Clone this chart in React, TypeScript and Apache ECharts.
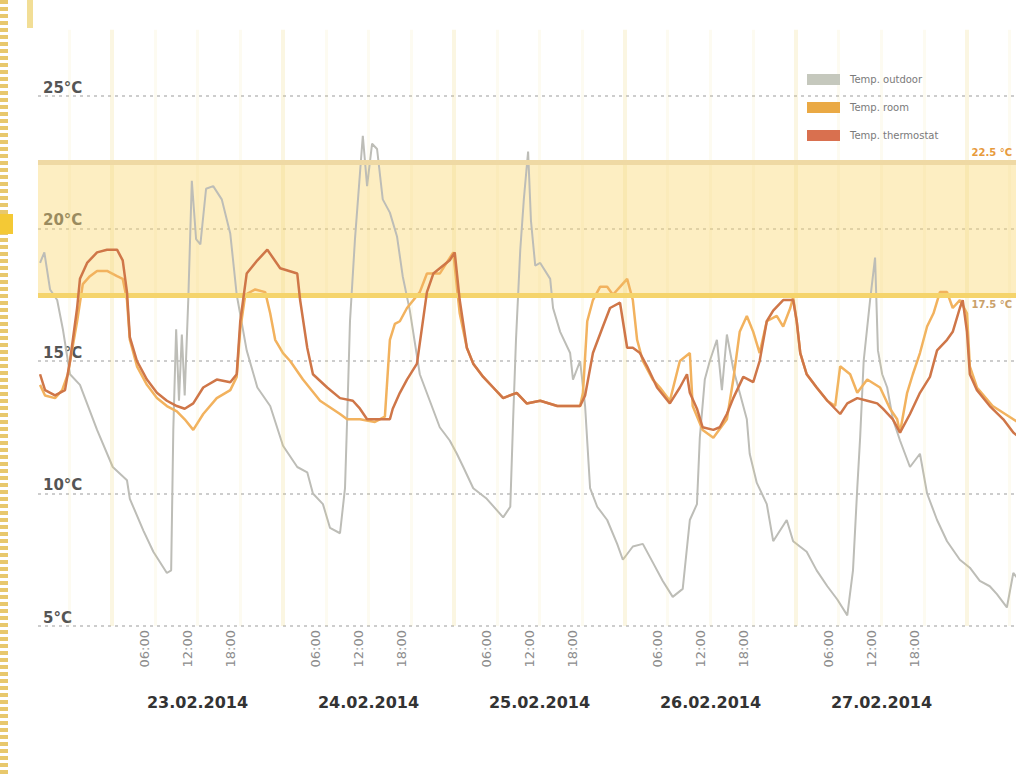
import React, { useEffect, useRef } from "react";
import * as echarts from "echarts";

// ---- data (hours since 23.02.2014 00:00, temperatures in °C) ----
const seriesNames = ["Temp. outdoor", "Temp. room", "Temp. thermostat"];

const outdoorHours = [-10.1, -9.5, -8.7, -7.7, -6.9, -5.9, -4.5, -2.1, 0.1, 2.1, 2.5, 4.4, 5.8, 7.7, 8.3, 8.6, 9.0, 9.4, 9.8, 10.2, 10.7, 11.2, 11.8, 12.4, 13.2, 14.2, 15.4, 16.6, 17.5, 18.9, 20.4, 22.2, 24.0, 26.0, 27.4, 28.2, 29.6, 30.6, 32.0, 32.7, 33.0, 33.4, 34.1, 35.2, 35.8, 36.5, 37.2, 38.0, 39.0, 40.0, 40.8, 41.8, 43.2, 44.6, 46.0, 47.4, 48.4, 49.3, 50.7, 52.6, 54.9, 55.9, 56.3, 56.7, 57.3, 57.8, 58.4, 58.8, 59.4, 60.1, 61.5, 61.9, 62.9, 64.3, 64.7, 65.7, 66.4, 67.1, 68.1, 69.5, 70.9, 71.7, 73.1, 74.5, 75.9, 77.3, 78.7, 80.1, 81.1, 82.1, 82.5, 83.2, 83.9, 84.9, 85.6, 86.3, 87.2, 88.1, 89.1, 89.5, 90.5, 91.9, 92.8, 94.7, 95.6, 97.5, 98.9, 100.4, 101.8, 103.2, 104.0, 104.6, 105.0, 105.5, 106.4, 107.1, 107.5, 108.1, 108.8, 109.6, 110.6, 112.0, 113.4, 114.4, 115.8, 117.2, 119.0, 120.4, 121.8, 123.2, 124.2, 125.6, 126.5, 127.4, 128.8];
const outdoorTemps = [18.7, 19.1, 17.7, 17.3, 16.2, 14.5, 14.1, 12.4, 11.0, 10.5, 9.8, 8.6, 7.8, 7.0, 7.1, 12.4, 16.2, 13.5, 16.0, 13.7, 17.3, 21.8, 19.6, 19.4, 21.5, 21.6, 21.1, 19.8, 17.5, 15.4, 14.0, 13.3, 11.8, 11.0, 10.8, 10.0, 9.6, 8.7, 8.5, 10.2, 12.8, 16.5, 19.6, 23.5, 21.6, 23.2, 23.0, 21.1, 20.6, 19.7, 18.2, 16.9, 14.5, 13.5, 12.5, 12.0, 11.5, 11.0, 10.2, 9.8, 9.1, 9.5, 12.8, 15.8, 19.2, 21.1, 22.9, 20.3, 18.6, 18.7, 18.1, 17.0, 16.1, 15.3, 14.3, 15.0, 13.3, 10.2, 9.5, 9.0, 8.1, 7.5, 8.0, 8.1, 7.4, 6.7, 6.1, 6.4, 9.0, 9.6, 12.1, 14.3, 15.0, 15.8, 13.9, 16.0, 14.7, 13.8, 12.8, 11.5, 10.4, 9.6, 8.2, 9.0, 8.2, 7.8, 7.1, 6.5, 6.0, 5.4, 7.1, 10.2, 12.1, 15.0, 17.3, 18.9, 15.4, 14.5, 14.0, 12.8, 12.0, 11.0, 11.5, 10.0, 9.0, 8.2, 7.5, 7.2, 6.7, 6.5, 6.2, 5.7, 7.0, 6.7, 6.4];

const roomHours = [-10.1, -9.4, -8.0, -7.0, -6.2, -4.9, -4.1, -3.1, -2.1, -0.7, 0.7, 1.5, 2.1, 2.5, 3.5, 4.9, 6.3, 7.7, 9.1, 10.2, 11.4, 12.8, 14.7, 16.6, 17.5, 18.0, 18.7, 20.1, 21.5, 22.2, 22.9, 24.0, 25.0, 26.8, 29.2, 32.0, 33.0, 34.8, 36.9, 38.3, 39.0, 39.7, 40.4, 41.4, 43.2, 44.2, 46.0, 47.9, 48.4, 48.8, 49.8, 50.7, 52.1, 53.5, 54.9, 56.8, 58.2, 60.1, 62.5, 65.7, 66.1, 66.7, 67.5, 68.5, 69.5, 70.3, 71.3, 72.3, 73.1, 73.7, 74.5, 75.9, 76.9, 78.3, 79.7, 81.1, 81.5, 82.9, 84.4, 86.3, 87.2, 88.1, 89.1, 90.0, 90.9, 91.9, 93.3, 94.2, 95.2, 95.6, 96.1, 96.6, 97.5, 98.9, 100.4, 101.5, 102.2, 103.6, 104.6, 106.0, 107.8, 109.2, 110.2, 110.6, 111.6, 112.4, 113.4, 114.4, 115.3, 116.2, 117.2, 118.0, 119.0, 120.0, 120.4, 121.4, 123.6, 126.5, 128.8];
const roomTemps = [14.1, 13.7, 13.6, 13.9, 14.5, 16.5, 17.9, 18.2, 18.4, 18.4, 18.2, 18.1, 17.3, 15.8, 14.8, 14.1, 13.6, 13.3, 13.1, 12.8, 12.4, 13.0, 13.6, 13.9, 14.4, 16.2, 17.5, 17.7, 17.6, 16.8, 15.8, 15.3, 15.0, 14.3, 13.5, 13.0, 12.8, 12.8, 12.7, 12.9, 15.8, 16.4, 16.5, 17.0, 17.6, 18.3, 18.3, 19.1, 17.8, 16.8, 15.5, 14.9, 14.4, 14.0, 13.6, 13.8, 13.4, 13.5, 13.3, 13.3, 13.8, 16.5, 17.3, 17.8, 17.8, 17.5, 17.8, 18.1, 17.3, 15.8, 15.0, 14.3, 14.0, 13.5, 15.0, 15.3, 13.3, 12.4, 12.1, 12.8, 14.3, 16.1, 16.7, 16.1, 15.3, 16.5, 16.7, 16.3, 17.0, 17.4, 16.5, 15.3, 14.5, 14.0, 13.5, 13.3, 14.8, 14.5, 13.8, 14.3, 14.0, 13.2, 12.8, 12.3, 13.8, 14.5, 15.3, 16.3, 16.8, 17.6, 17.6, 17.0, 17.3, 16.8, 14.8, 14.0, 13.3, 12.8, 12.4];

const thermoHours = [-10.1, -9.4, -8.0, -6.6, -5.9, -4.9, -4.5, -3.5, -2.1, -0.7, 0.7, 1.5, 2.1, 2.5, 3.5, 4.9, 6.3, 7.7, 9.1, 10.2, 11.4, 12.8, 14.7, 16.6, 17.5, 18.0, 18.9, 20.4, 21.8, 23.6, 26.0, 26.4, 27.4, 28.2, 30.2, 32.0, 33.8, 34.8, 35.8, 39.0, 39.4, 40.4, 41.4, 42.8, 44.2, 45.1, 47.4, 48.1, 48.8, 49.8, 50.7, 52.1, 53.5, 54.9, 56.8, 58.2, 60.1, 62.5, 65.7, 66.4, 67.5, 68.9, 69.9, 71.3, 72.3, 73.1, 74.1, 75.1, 76.5, 78.3, 79.7, 80.7, 81.1, 82.1, 82.9, 84.4, 85.3, 86.3, 87.2, 88.6, 90.0, 90.9, 91.9, 92.8, 94.2, 95.6, 96.1, 96.6, 97.5, 98.9, 100.4, 102.2, 103.2, 104.6, 106.0, 107.4, 108.2, 109.6, 110.6, 112.0, 113.4, 114.8, 115.8, 117.2, 118.0, 119.0, 119.4, 120.0, 120.4, 121.4, 123.2, 125.1, 126.5, 128.8];
const thermoTemps = [14.5, 13.9, 13.7, 13.9, 15.0, 17.0, 18.1, 18.7, 19.1, 19.2, 19.2, 18.8, 17.6, 15.9, 15.0, 14.3, 13.8, 13.5, 13.3, 13.2, 13.4, 14.0, 14.3, 14.2, 14.5, 16.5, 18.3, 18.8, 19.2, 18.5, 18.3, 17.3, 15.5, 14.5, 14.0, 13.6, 13.5, 13.2, 12.8, 12.8, 13.2, 13.8, 14.3, 14.9, 17.6, 18.3, 18.8, 19.1, 17.3, 15.5, 14.9, 14.4, 14.0, 13.6, 13.8, 13.4, 13.5, 13.3, 13.3, 13.7, 15.3, 16.3, 17.0, 17.2, 15.5, 15.5, 15.3, 14.8, 14.0, 13.4, 14.0, 14.5, 13.8, 13.2, 12.5, 12.4, 12.5, 13.0, 13.6, 14.4, 14.2, 15.0, 16.5, 16.9, 17.3, 17.3, 16.5, 15.3, 14.5, 14.0, 13.5, 13.0, 13.4, 13.6, 13.5, 13.4, 13.2, 12.8, 12.3, 13.0, 13.8, 14.4, 15.4, 15.8, 16.1, 17.0, 17.3, 16.1, 14.5, 13.9, 13.3, 12.8, 12.3, 11.8];

const dayLabels = ["23.02.2014", "24.02.2014", "25.02.2014", "26.02.2014", "27.02.2014"];
const dayStartHours = [0, 24, 48, 72, 96, 120];
const hourOfDayTicks = [6, 12, 18];
const quarterLineHours = [-6, 6, 12, 18, 30, 36, 42, 54, 60, 66, 78, 84, 90, 102, 108, 114, 126];
const comfortLow = 17.5;
const comfortHigh = 22.5;
const yTickValues = [5, 10, 15, 20, 25];

const X_MIN = -10.39;
const X_MAX = 126.88;
const LABEL_SHIFT = 1.4;

const zip = (xs: number[], ys: number[]) => {
  const n = Math.min(xs.length, ys.length);
  const out: number[][] = [];
  for (let i = 0; i < n; i++) out.push([xs[i], ys[i]]);
  return out;
};

const hourLabelValues: number[] = [];
dayLabels.forEach((_, d) => hourOfDayTicks.forEach((h) => hourLabelValues.push(d * 24 + h)));
const noonValues = dayLabels.map((_, d) => d * 24 + 12);

const pad2 = (n: number) => (n < 10 ? "0" + n : "" + n);

export default function App() {
  const ref = useRef<HTMLDivElement>(null);
  useEffect(() => {
    if (!ref.current) return;
    const chart = echarts.init(ref.current, null, { renderer: "svg" });
    const verticalLines = [
      ...quarterLineHours.map((h) => ({
        xAxis: h,
        lineStyle: { color: "rgba(235,215,120,0.10)", width: 3, type: "solid" },
        label: { show: false },
      })),
      ...dayStartHours.map((h) => ({
        xAxis: h,
        lineStyle: { color: "rgba(235,212,110,0.20)", width: 4, type: "solid" },
        label: { show: false },
      })),
    ];
    const option: any = {
      animation: false,
      textStyle: { fontFamily: "DejaVu Sans" },
      grid: { left: 38, right: 0, top: 29.75, bottom: 150, containLabel: false },
      legend: {
        data: seriesNames,
        orient: "vertical",
        left: 807,
        top: 74,
        padding: 0,
        z: 20,
        itemWidth: 33,
        itemHeight: 11,
        itemGap: 17,
        icon: "rect",
        textStyle: { color: "#7a7a7a", fontSize: 10, padding: [0, 0, 0, 5] },
      },
      xAxis: [
        {
          type: "value",
          min: X_MIN,
          max: X_MAX,
          axisLine: { show: false },
          axisTick: { show: false },
          axisLabel: { show: false },
          splitLine: { show: false },
        },
        {
          type: "value",
          min: X_MIN + LABEL_SHIFT,
          max: X_MAX + LABEL_SHIFT,
          position: "bottom",
          axisLine: { show: false },
          axisTick: { show: false },
          splitLine: { show: false },
          axisLabel: {
            customValues: hourLabelValues,
            rotate: 90,
            margin: 4,
            color: "#8c8c8c",
            fontSize: 13,
            formatter: (v: number) => pad2(Math.round(((v % 24) + 24) % 24)) + ":00",
          },
        },
        {
          type: "value",
          min: X_MIN,
          max: X_MAX,
          position: "bottom",
          axisLine: { show: false },
          axisTick: { show: false },
          splitLine: { show: false },
          axisLabel: {
            customValues: noonValues,
            margin: 68,
            color: "#333333",
            fontSize: 16,
            fontWeight: "bold",
            formatter: (v: number) => dayLabels[Math.round((v - 12) / 24)] || "",
          },
        },
      ],
      yAxis: {
        type: "value",
        min: 5,
        max: 27.5,
        interval: 5,
        axisLine: { show: false },
        axisTick: { show: false },
        axisLabel: {
          customValues: yTickValues,
          inside: true,
          margin: 5,
          align: "left",
          verticalAlign: "bottom",
          padding: [0, 0, 1, 0],
          color: "#555555",
          fontSize: 15,
          fontWeight: "bold",
          formatter: (v: number) => v + "°C",
        },
        splitLine: {
          show: true,
          showMaxLine: false,
          lineStyle: { type: [3, 4], color: "#cdcdcd", width: 2 },
        },
      },
      graphic: [
        {
          type: "line",
          silent: true,
          shape: { x1: 4, y1: 0, x2: 4, y2: 776 },
          style: { stroke: "#e8c86c", lineWidth: 8, lineDash: [4, 3] },
        },
        { type: "rect", silent: true, shape: { x: 27, y: 0, width: 6, height: 28 }, style: { fill: "#f2de96" } },
        { type: "rect", silent: true, shape: { x: 0, y: 214, width: 13, height: 20 }, style: { fill: "#f4c935" } },
      ],
      series: [
        {
          name: "day-lines",
          type: "line",
          data: [],
          silent: true,
          z: 1,
          markLine: {
            silent: true,
            symbol: ["none", "none"],
            data: verticalLines,
          },
        },
        {
          name: "band",
          type: "line",
          data: [],
          silent: true,
          z: 2,
          markArea: {
            silent: true,
            itemStyle: { color: "rgba(250,214,110,0.42)" },
            data: [[{ yAxis: comfortLow }, { yAxis: comfortHigh }]],
          },
          markLine: {
            silent: true,
            symbol: ["none", "none"],
            data: [
              {
                yAxis: comfortHigh,
                lineStyle: { color: "#efd9a4", width: 5, type: "solid" },
                label: {
                  show: true,
                  position: "insideEndTop",
                  distance: [4, 5],
                  formatter: comfortHigh + " °C",
                  color: "#e79a3c",
                  fontSize: 10,
                  fontWeight: "bold",
                },
              },
              {
                yAxis: comfortLow,
                lineStyle: { color: "#f5d46c", width: 5, type: "solid" },
                label: {
                  show: true,
                  position: "insideEndBottom",
                  distance: [4, 5],
                  formatter: comfortLow + " °C",
                  color: "#c9a06a",
                  fontSize: 10,
                  fontWeight: "bold",
                },
              },
            ],
          },
        },
        {
          name: seriesNames[0],
          type: "line",
          data: zip(outdoorHours, outdoorTemps),
          showSymbol: false,
          z: 3,
          lineStyle: { color: "#bdbdb7", width: 2 },
          itemStyle: { color: "#c5c8bd" },
        },
        {
          name: seriesNames[1],
          type: "line",
          data: zip(roomHours, roomTemps),
          showSymbol: false,
          z: 4,
          lineStyle: { color: "#f2b25e", width: 2.5 },
          itemStyle: { color: "#eaa944" },
        },
        {
          name: seriesNames[2],
          type: "line",
          data: zip(thermoHours, thermoTemps),
          showSymbol: false,
          z: 5,
          lineStyle: { color: "#cf7648", width: 2.5 },
          itemStyle: { color: "#d9704f" },
        },
      ],
    };
    chart.setOption(option);
    return () => chart.dispose();
  }, []);
  return (
    <div
      style={{
        position: "fixed",
        left: 0,
        top: 0,
        width: 1016,
        height: 776,
        overflow: "hidden",
        background: "#ffffff",
      }}
    >
      <div ref={ref} style={{ width: 1016, height: 776 }} />
    </div>
  );
}
